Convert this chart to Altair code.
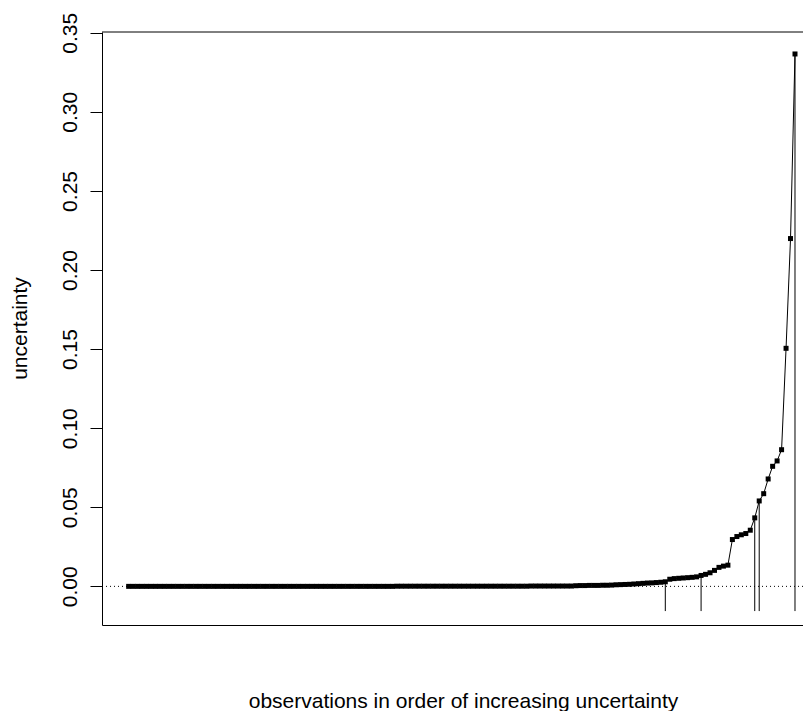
import altair as alt
import pandas as pd

# uncertainty values, sorted (150 observations)
unc_low = [
    0.0000, 0.0000, 0.0000, 0.0000, 0.0000, 0.0000, 0.0000, 0.0000, 0.0000, 0.0000,
    0.0000, 0.0000, 0.0000, 0.0000, 0.0000, 0.0000, 0.0000, 0.0000, 0.0000, 0.0000,
    0.0000, 0.0000, 0.0000, 0.0000, 0.0000, 0.0000, 0.0000, 0.0000, 0.0000, 0.0000,
    0.0000, 0.0000, 0.0000, 0.0000, 0.0000, 0.0000, 0.0000, 0.0000, 0.0000, 0.0000,
    0.0000, 0.0000, 0.0000, 0.0000, 0.0000, 0.0000, 0.0000, 0.0000, 0.0000, 0.0000,
    0.0000, 0.0000, 0.0000, 0.0000, 0.0000, 0.0000, 0.0000, 0.0000, 0.0000, 0.0000,
    0.0001, 0.0001, 0.0001, 0.0001, 0.0001, 0.0001, 0.0001, 0.0001, 0.0001, 0.0001,
    0.0001, 0.0001, 0.0001, 0.0001, 0.0001, 0.0001, 0.0001, 0.0001, 0.0001, 0.0001,
    0.0001, 0.0001, 0.0001, 0.0001, 0.0001, 0.0001, 0.0001, 0.0001, 0.0001, 0.0001,
    0.0002, 0.0002, 0.0002, 0.0002, 0.0002, 0.0002, 0.0002, 0.0002, 0.0002, 0.0002,
]
unc_mid = [
    0.0004, 0.0005, 0.0005, 0.0006, 0.0006, 0.0006, 0.0007, 0.0007, 0.0008,
    0.0010, 0.0011, 0.0012, 0.0013, 0.0015, 0.0017, 0.0019, 0.0021, 0.0022, 0.0024, 0.0026, 0.0029,
    0.0045, 0.0049, 0.0051, 0.0053, 0.0055, 0.0057, 0.0060,
]
unc_high = [
    0.0069, 0.0076, 0.0086, 0.0101, 0.0120, 0.0128, 0.0134,
    0.0296, 0.0315, 0.0326, 0.0334, 0.0355, 0.0433, 0.0540, 0.0586,
    0.0679, 0.0759, 0.0793, 0.0864, 0.1505, 0.2199, 0.3366,
]
uncertainty = unc_low + unc_mid + unc_high
index = list(range(1, len(uncertainty) + 1))

# misclassified observations (positions in sorted order)
misclassified = [121, 129, 141, 142, 150]
bad_bottom = -0.5 / 32

y_ticks = [0.00, 0.05, 0.10, 0.15, 0.20, 0.25, 0.30, 0.35]

df = pd.DataFrame({"idx": index, "unc": uncertainty})
df_bad = pd.DataFrame({
    "idx": misclassified,
    "unc": [uncertainty[i - 1] for i in misclassified],
    "low": [bad_bottom] * len(misclassified),
})
df_zero = pd.DataFrame({"y": [0.0]})

FONT = "Liberation Sans"
W, H = 701, 593

xscale = alt.Scale(domain=[-4.96, 151.79], nice=False, zero=False)
yscale = alt.Scale(domain=[-0.02443, 0.35049], nice=False, zero=False)

xaxis = alt.Axis(
    title="observations in order of increasing uncertainty",
    ticks=False, labels=False, grid=False, domain=True,
    domainColor="black", domainWidth=1,
    titleFont=FONT, titleFontSize=21, titleFontWeight="normal", titleColor="black",
    titleX=361, titleY=82, titleAlign="center", titleBaseline="alphabetic",
)
yaxis = alt.Axis(
    title="uncertainty", values=y_ticks, format=".2f", grid=False,
    domain=True, domainColor="black", domainWidth=1,
    ticks=True, tickColor="black", tickSize=12, tickWidth=1,
    labelFont=FONT, labelFontSize=21, labelColor="black",
    labelAngle=270, labelAlign="center", labelBaseline="alphabetic",
    labelPadding=14,
    titleFont=FONT, titleFontSize=21, titleFontWeight="normal", titleColor="black",
    titleAngle=270, titleX=-76, titleY=296, titleAlign="center", titleBaseline="alphabetic",
)

base = alt.Chart(df)

line = base.mark_line(color="black", strokeWidth=1).encode(
    x=alt.X("idx:Q", scale=xscale, axis=xaxis),
    y=alt.Y("unc:Q", scale=yscale, axis=yaxis),
)
pts = base.mark_square(size=25, color="black", opacity=1, filled=True).encode(
    x=alt.X("idx:Q", scale=xscale),
    y=alt.Y("unc:Q", scale=yscale),
)
zero = alt.Chart(df_zero).mark_rule(color="black", strokeWidth=1, strokeDash=[1, 3]).encode(
    y=alt.Y("y:Q", scale=yscale),
)
bad = alt.Chart(df_bad).mark_rule(color="black", strokeWidth=1).encode(
    x=alt.X("idx:Q", scale=xscale),
    y=alt.Y("low:Q", scale=yscale),
    y2="unc:Q",
)
top = alt.Chart(df_zero).mark_rule(color="black", strokeWidth=1).encode(
    x=alt.value(0), x2=alt.value(W), y=alt.value(0),
)

chart = alt.layer(zero, bad, line, pts, top).properties(
    width=W, height=H,
    autosize=alt.AutoSizeParams(type="none"),
    padding={"left": 94, "top": 24, "right": 0, "bottom": 86},
    background="white",
).configure_view(stroke=None)

chart.save("out.html", embed_options={"renderer": "svg", "actions": False})
